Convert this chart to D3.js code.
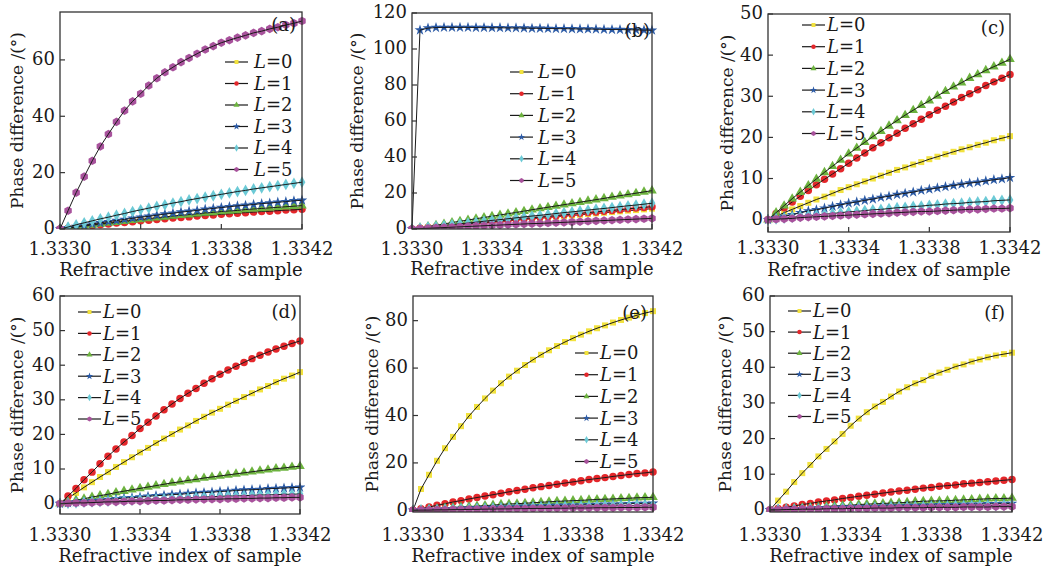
<!DOCTYPE html>
<html>
<head>
<meta charset="utf-8">
<script src="https://cdn.jsdelivr.net/npm/d3@7"></script>
<style>
  body { margin: 0; background: #fff; }
  svg { display: block; }
  text { font-family: "DejaVu Serif", serif; fill: #1a1a1a; }
</style>
</head>
<body>
<div id="chart"></div>
<script>

var width = 1044,
    height = 568

// refractive index of sample (x axis)
var xValues = [1.33300,1.33304,1.33308,1.33312,1.33316,1.33320,1.33324,1.33328,1.33332,1.33336,1.33340,
               1.33344,1.33348,1.33352,1.33356,1.33360,1.33364,1.33368,1.33372,1.33376,1.33380,
               1.33384,1.33388,1.33392,1.33396,1.33400,1.33404,1.33408,1.33412,1.33416,1.33420]
var xTicks = [1.3330, 1.3334, 1.3338, 1.3342]
var lValues = [0, 1, 2, 3, 4, 5]
var panelLetters = ["(a)", "(b)", "(c)", "(d)", "(e)", "(f)"]

// panel (a)
var aL0 = [0,0.3,0.7,1.0,1.3,1.6,1.9,2.2,2.5,2.8,3.1,3.4,3.7,3.9,4.2,4.4,4.7,4.9,5.2,5.4,5.6,5.9,6.1,6.3,6.5,6.7,6.9,7.1,7.3,7.4,7.6]
var aL1 = [0,0.3,0.6,0.9,1.2,1.5,1.8,2.1,2.3,2.6,2.9,3.1,3.4,3.6,3.9,4.1,4.3,4.6,4.8,5.0,5.2,5.4,5.6,5.8,6.0,6.2,6.3,6.5,6.7,6.8,7.0]
var aL2 = [0,0.4,0.7,1.1,1.4,1.8,2.1,2.4,2.8,3.1,3.4,3.7,4.0,4.3,4.6,4.9,5.1,5.4,5.7,5.9,6.2,6.4,6.6,6.9,7.1,7.3,7.5,7.7,7.9,8.1,8.3]
var aL3 = [0,0.4,0.9,1.3,1.8,2.2,2.6,3.0,3.4,3.8,4.2,4.5,4.9,5.3,5.6,6.0,6.3,6.6,7.0,7.3,7.6,7.9,8.2,8.4,8.7,9.0,9.2,9.5,9.7,10.0,10.2]
var aL4 = [0,0.7,1.5,2.2,2.9,3.6,4.2,4.9,5.5,6.2,6.8,7.4,8.0,8.6,9.2,9.7,10.3,10.8,11.3,11.8,12.3,12.8,13.3,13.7,14.2,14.6,15.0,15.4,15.8,16.2,16.6]
var aL5 = [0,6.5,12.9,18.6,24.2,29.3,33.7,38.0,42.0,45.3,48.0,50.9,53.5,55.6,57.4,59.2,60.7,62.2,63.7,64.9,66.1,67.0,67.9,68.7,69.6,70.2,71.0,71.6,72.4,73.0,73.8]

// panel (b)
var bL0 = [0,0.4,0.8,1.1,1.5,1.9,2.3,2.6,3.0,3.4,3.8,4.1,4.5,4.9,5.3,5.7,6.0,6.4,6.8,7.2,7.5,7.9,8.3,8.7,9.0,9.4,9.8,10.2,10.5,10.9,11.3]
var bL1 = [0,0.4,0.8,1.2,1.7,2.1,2.5,2.9,3.3,3.7,4.1,4.5,5.0,5.4,5.8,6.2,6.6,7.0,7.4,7.9,8.3,8.7,9.1,9.5,9.9,10.3,10.7,11.2,11.6,12.0,12.4]
var bL2 = [0,0.7,1.4,2.1,2.8,3.6,4.3,5.0,5.7,6.4,7.1,7.8,8.5,9.2,9.9,10.7,11.4,12.1,12.8,13.5,14.2,14.9,15.6,16.3,17.0,17.8,18.5,19.2,19.9,20.6,21.3]
var bL3 = [0,110.5,111.6,111.9,112.0,112.0,112.0,112.0,111.9,111.9,111.8,111.8,111.7,111.7,111.6,111.5,111.5,111.4,111.3,111.3,111.2,111.1,111.1,111.0,110.9,110.8,110.8,110.7,110.6,110.5,110.4]
var bL4 = [0,0.5,1.0,1.4,1.9,2.4,2.9,3.3,3.8,4.3,4.8,5.2,5.7,6.2,6.7,7.2,7.6,8.1,8.6,9.1,9.5,10.0,10.5,11.0,11.4,11.9,12.4,12.9,13.3,13.8,14.3]
var bL5 = [0,0.2,0.4,0.6,0.8,1.0,1.2,1.4,1.6,1.8,2.0,2.2,2.4,2.6,2.8,3.0,3.1,3.3,3.5,3.7,3.9,4.1,4.3,4.5,4.7,4.9,5.1,5.3,5.5,5.7,5.9]

// panel (c)
var cL0 = [0,0.8,1.7,2.5,3.3,4.1,4.9,5.6,6.4,7.2,7.9,8.6,9.3,10.0,10.7,11.4,12.1,12.7,13.4,14.0,14.7,15.3,15.9,16.5,17.1,17.6,18.2,18.7,19.3,19.8,20.3]
var cL1 = [0,1.5,2.9,4.3,5.7,7.1,8.5,9.8,11.1,12.4,13.7,15.0,16.2,17.5,18.7,19.9,21.0,22.2,23.3,24.4,25.5,26.6,27.6,28.6,29.7,30.6,31.6,32.6,33.5,34.4,35.3]
var cL2 = [0,1.7,3.4,5.1,6.7,8.3,9.9,11.5,13.0,14.5,16.0,17.4,18.8,20.2,21.5,22.8,24.1,25.4,26.6,27.8,28.9,30.1,31.2,32.3,33.3,34.4,35.3,36.3,37.2,38.1,39.0]
var cL3 = [0,0.4,0.8,1.2,1.7,2.1,2.4,2.8,3.2,3.6,4.0,4.3,4.7,5.0,5.4,5.7,6.1,6.4,6.7,7.1,7.4,7.7,8.0,8.3,8.6,8.9,9.1,9.4,9.7,9.9,10.2]
var cL4 = [0,0.2,0.4,0.6,0.8,1.0,1.1,1.3,1.5,1.7,1.9,2.0,2.2,2.4,2.5,2.7,2.9,3.0,3.2,3.3,3.5,3.6,3.8,3.9,4.0,4.2,4.3,4.4,4.6,4.7,4.8]
var cL5 = [0,0.1,0.2,0.3,0.5,0.6,0.7,0.8,0.9,1.0,1.1,1.2,1.3,1.4,1.5,1.6,1.7,1.8,1.9,2.0,2.0,2.1,2.2,2.3,2.4,2.5,2.5,2.6,2.7,2.7,2.8]

// panel (d)
var dL0 = [0,1.6,3.1,4.7,6.2,7.7,9.1,10.6,12.0,13.4,14.8,16.1,17.5,18.8,20.1,21.4,22.6,23.9,25.1,26.3,27.4,28.6,29.7,30.8,31.9,33.0,34.0,35.1,36.1,37.0,38.0]
var dL1 = [0,2.2,4.4,6.9,9.1,11.5,13.7,15.8,17.8,19.7,21.7,23.5,25.3,27.1,28.8,30.4,31.9,33.3,34.8,36.1,37.4,38.6,39.7,40.8,41.9,42.9,43.8,44.7,45.5,46.3,47.0]
var dL2 = [0,0.5,1.0,1.4,1.9,2.3,2.7,3.2,3.6,4.0,4.4,4.8,5.2,5.6,6.0,6.3,6.7,7.0,7.4,7.7,8.0,8.3,8.6,8.9,9.2,9.5,9.8,10.1,10.3,10.6,10.8]
var dL3 = [0,0.2,0.4,0.6,0.8,1.0,1.2,1.4,1.6,1.7,1.9,2.1,2.3,2.4,2.6,2.7,2.9,3.1,3.2,3.3,3.5,3.6,3.8,3.9,4.0,4.1,4.3,4.4,4.5,4.6,4.7]
var dL4 = [0,0.1,0.2,0.4,0.5,0.6,0.7,0.8,0.9,1.0,1.1,1.2,1.3,1.4,1.5,1.6,1.7,1.8,1.9,2.0,2.1,2.2,2.2,2.3,2.4,2.5,2.5,2.6,2.7,2.7,2.8]
var dL5 = [0,0.1,0.2,0.2,0.3,0.4,0.5,0.5,0.6,0.7,0.7,0.8,0.9,0.9,1.0,1.1,1.1,1.2,1.2,1.3,1.3,1.4,1.4,1.5,1.5,1.6,1.6,1.7,1.7,1.8,1.8]

// panel (e)
var eL0 = [0,9.0,15.0,20.9,26.2,31.0,35.5,39.8,43.6,47.2,50.5,53.6,56.4,58.9,61.3,63.5,65.6,67.5,69.3,71.0,72.6,74.1,75.5,76.8,78.0,79.2,80.3,81.3,82.3,83.2,84.0]
var eL1 = [0,0.7,1.4,2.1,2.8,3.5,4.1,4.8,5.4,6.0,6.6,7.2,7.8,8.4,8.9,9.5,10.0,10.5,11.0,11.5,12.0,12.5,13.0,13.4,13.8,14.3,14.7,15.1,15.5,15.8,16.2]
var eL2 = [0,0.2,0.5,0.7,1.0,1.2,1.4,1.6,1.8,2.0,2.2,2.5,2.7,2.8,3.0,3.2,3.4,3.6,3.8,3.9,4.1,4.2,4.4,4.6,4.7,4.8,5.0,5.1,5.3,5.4,5.5]
var eL3 = [0,0.1,0.3,0.4,0.5,0.6,0.8,0.9,1.0,1.1,1.2,1.3,1.4,1.6,1.7,1.8,1.9,2.0,2.0,2.1,2.2,2.3,2.4,2.5,2.6,2.6,2.7,2.8,2.9,2.9,3.0]
var eL4 = [0,0.1,0.2,0.3,0.4,0.5,0.6,0.6,0.7,0.8,0.9,1.0,1.1,1.1,1.2,1.3,1.4,1.4,1.5,1.6,1.6,1.7,1.8,1.8,1.9,1.9,2.0,2.0,2.1,2.2,2.2]
var eL5 = [0,0.1,0.1,0.2,0.2,0.3,0.3,0.4,0.4,0.5,0.5,0.6,0.6,0.7,0.7,0.8,0.8,0.8,0.9,0.9,1.0,1.0,1.0,1.1,1.1,1.1,1.2,1.2,1.2,1.3,1.3]

// panel (f)
var fL0 = [0,2.6,5.1,7.8,10.3,12.6,15.0,17.1,19.2,21.3,23.6,25.6,27.4,29.0,30.3,31.8,33.2,34.4,35.5,36.4,37.6,38.5,39.3,40.2,40.8,41.6,42.2,42.8,43.3,43.7,44.1]
var fL1 = [0,0.4,0.7,1.1,1.5,1.8,2.2,2.5,2.8,3.2,3.5,3.8,4.1,4.4,4.7,5.0,5.3,5.5,5.8,6.1,6.3,6.6,6.8,7.0,7.3,7.5,7.7,7.9,8.1,8.3,8.5]
var fL2 = [0,0.1,0.3,0.4,0.6,0.7,0.8,1.0,1.1,1.2,1.3,1.5,1.6,1.7,1.8,1.9,2.0,2.1,2.3,2.4,2.5,2.5,2.6,2.7,2.8,2.9,3.0,3.1,3.2,3.2,3.3]
var fL3 = [0,0.1,0.2,0.2,0.3,0.4,0.5,0.5,0.6,0.7,0.7,0.8,0.9,0.9,1.0,1.1,1.1,1.2,1.2,1.3,1.3,1.4,1.4,1.5,1.5,1.6,1.6,1.7,1.7,1.8,1.8]
var fL4 = [0,0.1,0.1,0.2,0.2,0.3,0.3,0.4,0.4,0.5,0.5,0.6,0.6,0.7,0.7,0.8,0.8,0.8,0.9,0.9,1.0,1.0,1.0,1.1,1.1,1.1,1.2,1.2,1.2,1.3,1.3]
var fL5 = [0,0.0,0.1,0.1,0.2,0.2,0.2,0.3,0.3,0.3,0.4,0.4,0.4,0.5,0.5,0.5,0.6,0.6,0.6,0.6,0.7,0.7,0.7,0.7,0.8,0.8,0.8,0.8,0.9,0.9,0.9]

var yTicksA = [0, 20, 40, 60]
var yTicksB = [0, 20, 40, 60, 80, 100, 120]
var yTicksC = [0, 10, 20, 30, 40, 50]
var yTicksD = [0, 10, 20, 30, 40, 50, 60]
var yTicksE = [0, 20, 40, 60, 80]
var yTicksF = [0, 10, 20, 30, 40, 50, 60]

// layout of each panel (pixels)
var panels = [
  { series: [aL0,aL1,aL2,aL3,aL4,aL5], yTicks: yTicksA, yDomain: [0, 77],
    l: 60, r: 302, t: 12, b: 229, tickY: 255, titleY: 276, ylabX: 17,
    leg: { x1: 225, x2: 248, tx: 254, y0: 62, dy: 21.5 }, letter: { x: 296, y: 25 } },
  { series: [bL0,bL1,bL2,bL3,bL4,bL5], yTicks: yTicksB, yDomain: [0, 120],
    l: 412, r: 652, t: 13, b: 229, tickY: 255, titleY: 275, ylabX: 357,
    leg: { x1: 510, x2: 533, tx: 538, y0: 72, dy: 21.7 }, letter: { x: 650, y: 31 } },
  { series: [cL0,cL1,cL2,cL3,cL4,cL5], yTicks: yTicksC, yDomain: [-3, 50],
    l: 768, r: 1010, t: 14, b: 232, tickY: 254, titleY: 276, ylabX: 727,
    leg: { x1: 802, x2: 825, tx: 827, y0: 25, dy: 21.7 }, letter: { x: 1005, y: 28 } },
  { series: [dL0,dL1,dL2,dL3,dL4,dL5], yTicks: yTicksD, yDomain: [-3, 60],
    l: 60, r: 300, t: 296, b: 514, tickY: 541, titleY: 562, ylabX: 17,
    leg: { x1: 78, x2: 101, tx: 103, y0: 312, dy: 21.4 }, letter: { x: 297, y: 312 } },
  { series: [eL0,eL1,eL2,eL3,eL4,eL5], yTicks: yTicksE, yDomain: [-0.7, 90.4],
    l: 413, r: 653, t: 296, b: 512, tickY: 541, titleY: 562, ylabX: 372,
    leg: { x1: 575, x2: 598, tx: 600, y0: 353, dy: 21.7 }, letter: { x: 647, y: 313 } },
  { series: [fL0,fL1,fL2,fL3,fL4,fL5], yTicks: yTicksF, yDomain: [-0.6, 60],
    l: 770, r: 1012, t: 296, b: 512, tickY: 541, titleY: 562, ylabX: 725,
    leg: { x1: 788, x2: 811, tx: 813, y0: 311, dy: 21.1 }, letter: { x: 1005, y: 313 } }
]

var colors = ["#f2e23e", "#e4272b", "#6db33f", "#2c5ba6", "#6ccad6", "#a8529c"]

var symbolHex = {
  draw: function(context, size) {
    var r = Math.sqrt(size * 2 / (3 * Math.sqrt(3)))
    for (var i = 0; i < 6; i++) {
      var a = Math.PI / 3 * i + Math.PI / 6
      if (i === 0) context.moveTo(r * Math.cos(a), r * Math.sin(a))
      else context.lineTo(r * Math.cos(a), r * Math.sin(a))
    }
    context.closePath()
  }
}
var shapes = [d3.symbolSquare, d3.symbolCircle, d3.symbolTriangle, d3.symbolStar, d3.symbolDiamond, symbolHex]
var sizes = [36, 44, 40, 36, 40, 48]

var svg = d3.select("#chart")
  .append("svg")
    .attr("width", width)
    .attr("height", height)

panels.forEach(function(p, pi) {
  var x = d3.scaleLinear().domain([1.3330, 1.3342]).range([p.l, p.r])
  var y = d3.scaleLinear().domain(p.yDomain).range([p.b, p.t])
  var g = svg.append("g")

  var clipId = "clip" + pi
  g.append("clipPath").attr("id", clipId)
    .append("rect")
      .attr("x", p.l - 5).attr("y", p.t - 5)
      .attr("width", p.r - p.l + 10).attr("height", p.b - p.t + 5)

  var plot = g.append("g").attr("clip-path", "url(#" + clipId + ")")

  var line = d3.line()
    .x(function(d, i) { return x(xValues[i]) })
    .y(function(d) { return y(d) })

  p.series.forEach(function(vals, si) {
    plot.selectAll(null)
      .data(vals)
      .enter()
      .append("path")
        .attr("d", d3.symbol().type(shapes[si]).size(sizes[si]))
        .attr("transform", function(d, i) { return "translate(" + x(xValues[i]) + "," + y(d) + ")" })
        .attr("fill", colors[si])
    plot.append("path")
      .datum(vals)
      .attr("d", line)
      .attr("fill", "none")
      .attr("stroke", "#1a1a1a")
      .attr("stroke-width", 1)
  })

  // frame
  g.append("rect")
    .attr("x", p.l).attr("y", p.t)
    .attr("width", p.r - p.l).attr("height", p.b - p.t)
    .attr("fill", "none")
    .attr("stroke", "#333")
    .attr("stroke-width", 1.3)

  // x ticks (inward)
  g.selectAll(null).data(xTicks).enter().append("line")
    .attr("x1", function(d) { return x(d) }).attr("x2", function(d) { return x(d) })
    .attr("y1", p.b).attr("y2", p.b - 5)
    .attr("stroke", "#333").attr("stroke-width", 1.2)
  g.selectAll(null).data(xTicks).enter().append("text")
    .attr("x", function(d) { return x(d) })
    .attr("y", p.tickY)
    .attr("text-anchor", "middle")
    .style("font-size", "18px")
    .text(d3.format(".4f"))

  // y ticks (inward)
  g.selectAll(null).data(p.yTicks).enter().append("line")
    .attr("x1", p.l).attr("x2", p.l + 5)
    .attr("y1", function(d) { return y(d) }).attr("y2", function(d) { return y(d) })
    .attr("stroke", "#333").attr("stroke-width", 1.2)
  g.selectAll(null).data(p.yTicks).enter().append("text")
    .attr("x", p.l - 5)
    .attr("y", function(d) { return y(d) })
    .attr("dy", "0.3em")
    .attr("text-anchor", "end")
    .style("font-size", "18px")
    .text(function(d) { return d })

  // axis titles
  g.append("text")
    .attr("x", (p.l + p.r) / 2)
    .attr("y", p.titleY)
    .attr("text-anchor", "middle")
    .style("font-size", "18px")
    .text("Refractive index of sample")
  g.append("text")
    .attr("transform", "translate(" + p.ylabX + "," + (p.t + p.b) / 2 + ") rotate(-90)")
    .attr("dy", "0.36em")
    .attr("text-anchor", "middle")
    .style("font-size", "17px")
    .text("Phase difference /(°)")

  // panel letter
  g.append("text")
    .attr("x", p.letter.x)
    .attr("y", p.letter.y)
    .attr("dy", "0.36em")
    .attr("text-anchor", "end")
    .style("font-size", "18px")
    .text(panelLetters[pi])

  // legend
  var leg = g.selectAll(null).data(lValues).enter().append("g")
    .attr("transform", function(d, i) { return "translate(0," + (p.leg.y0 + i * p.leg.dy) + ")" })
  leg.append("line")
    .attr("x1", p.leg.x1).attr("x2", p.leg.x2)
    .attr("stroke", "#1a1a1a").attr("stroke-width", 1.2)
  leg.append("path")
    .attr("d", function(d, i) { return d3.symbol().type(shapes[i]).size(16)() })
    .attr("transform", "translate(" + (p.leg.x1 + p.leg.x2) / 2 + ",0)")
    .attr("fill", function(d, i) { return colors[i] })
  var lt = leg.append("text")
    .attr("x", p.leg.tx)
    .attr("dy", "0.36em")
    .style("font-size", "18px")
  lt.append("tspan").style("font-style", "italic").text("L")
  lt.append("tspan").text(function(d) { return "=" + d })
})

</script>
</body>
</html>
